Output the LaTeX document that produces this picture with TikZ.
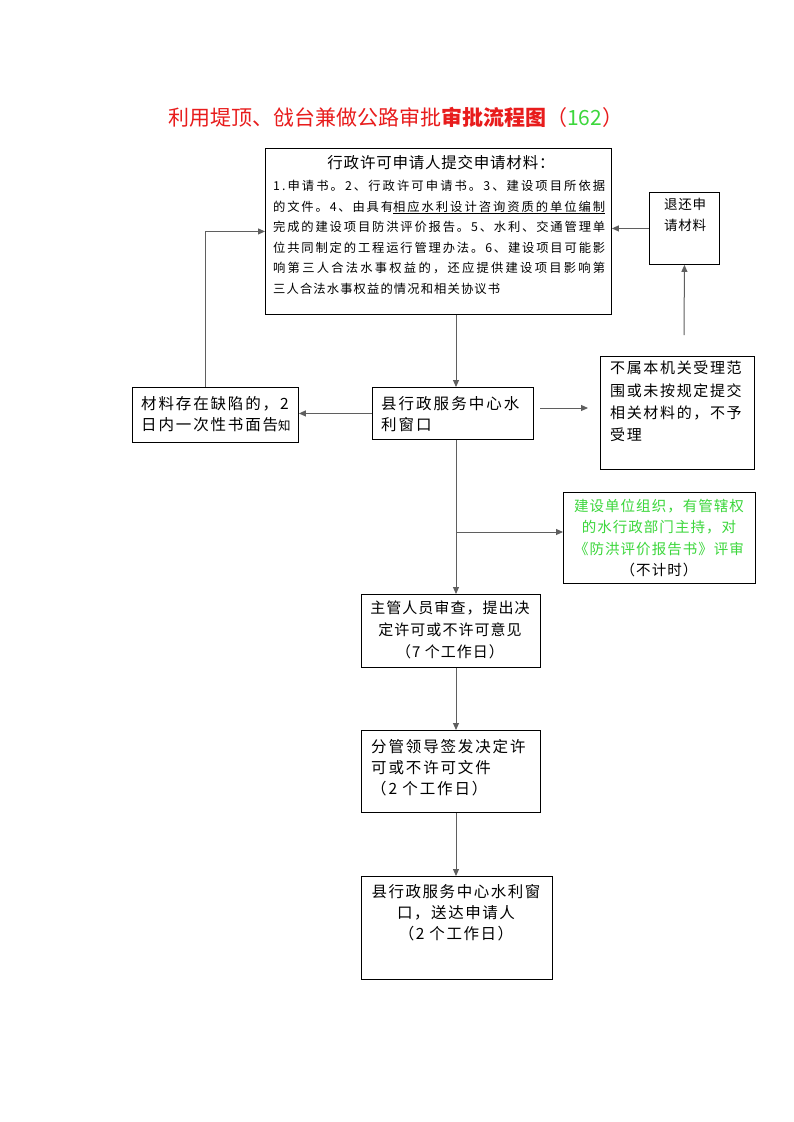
\documentclass[tikz,border=0pt]{standalone}
\usepackage{fontspec}
\setmainfont{Noto Sans CJK SC}
\usetikzlibrary{arrows.meta,calc}
\XeTeXlinebreaklocale "zh"
\definecolor{tred}{RGB}{232,28,28}
\definecolor{tgreen}{RGB}{60,215,60}
\definecolor{lgray}{RGB}{95,95,95}
\newcommand\fs[2]{\fontsize{#1}{#2}\selectfont}
\newcommand\jl[2]{\makebox[#1][s]{#2}}
\newcommand\stretchon{\XeTeXinterchartokenstate=1 \XeTeXinterchartoks 0 0={\hskip 0pt plus 1pt\relax}}
\begin{document}
\begin{tikzpicture}[x=1pt,y=-1pt,
  box/.style={draw, line width=0.9pt, inner sep=0, anchor=north west},
  conn/.style={draw=lgray, line width=1pt, -{Triangle[length=7pt,width=6pt]}},
  txt/.style={inner sep=0, anchor=north west, align=left},
  ctxt/.style={inner sep=0, anchor=north, align=center}]
\useasboundingbox (0,0) rectangle (793,1122);
\fill[white] (0,0) rectangle (793,1122);

% title
\node[anchor=west, inner sep=0, text=tred, font=\fs{21}{23}] (title) at (168,117)
  {利用堤顶、戗台兼做公路审批\textbf{审批流程图}（\textcolor{tgreen}{162}）};

% boxes
\node[box, minimum width=346, minimum height=166] (apply) at (265,148) {};
\node[box, minimum width=70, minimum height=72] (ret) at (649,192) {};
\node[box, minimum width=166, minimum height=55] (left) at (132,387) {};
\node[box, minimum width=161, minimum height=52] (win) at (372,387) {};
\node[box, minimum width=154, minimum height=113] (rej) at (600,356) {};
\node[box, minimum width=192, minimum height=91] (green) at (563,492) {};
\node[box, minimum width=179, minimum height=73] (zg) at (361,594) {};
\node[box, minimum width=179, minimum height=82] (fg) at (361,730) {};
\node[box, minimum width=191, minimum height=103] (fin) at (361,876) {};

% texts
\node[ctxt, font=\fs{15.5}{18}\addfontfeature{LetterSpace=5}] (applyh) at (441,155) {行政许可申请人提交申请材料：};
\node[txt, font=\fs{12.3}{20.6}\stretchon] (applyb) at (273,180) {%
\jl{332pt}{1.申请书。2、行政许可申请书。3、建设项目所依据}\\
\jl{120pt}{的文件。4、由具有}\underline{\jl{212pt}{相应水利设计咨询资质的单位编制}}\\
\jl{332pt}{完成的建设项目防洪评价报告。5、水利、交通管理单}\\
\jl{332pt}{位共同制定的工程运行管理办法。6、建设项目可能影}\\
\jl{332pt}{响第三人合法水事权益的，还应提供建设项目影响第}\\
\jl{227pt}{三人合法水事权益的情况和相关协议书}};

\node[txt, font=\fs{13.5}{21}\addfontfeature{LetterSpace=5}] (rett) at (664,198) {退还申\\请材料};

\node[txt, font=\fs{15.5}{21}\addfontfeature{LetterSpace=12}] (leftt) at (141,396) {材料存在缺陷的，2\\日内一次性书面告{\fs{12.5}{21}知}};

\node[txt, font=\fs{15.5}{21}\addfontfeature{LetterSpace=13}] (wint) at (381,396) {县行政服务中心水\\利窗口};

\node[txt, font=\fs{15}{22.2}\addfontfeature{LetterSpace=11}] (rejt) at (610,361) {不属本机关受理范\\围或未按规定提交\\相关材料的，不予\\受理};

\node[ctxt, font=\fs{14.5}{21.5}\addfontfeature{LetterSpace=7}, text=tgreen] (greent) at (659,499) {建设单位组织，有管辖权\\的水行政部门主持，对\\《防洪评价报告书》评审\\\textcolor{black}{（不计时）}};

\node[ctxt, font=\fs{15}{22}\addfontfeature{LetterSpace=7}] (zgt) at (450,601) {主管人员审查，提出决\\定许可或不许可意见\\（7 个工作日）};

\node[txt, font=\fs{15.5}{21}\addfontfeature{LetterSpace=12}] (fgt) at (371,739) {分管领导签发决定许\\可或不许可文件\\（2 个工作日）};

\node[ctxt, font=\fs{15.5}{21}\addfontfeature{LetterSpace=10}] (fint) at (456,884) {县行政服务中心水利窗\\口，送达申请人\\（2 个工作日）};

% connectors
\coordinate (sp) at (456,0);
\draw[conn] (apply.south -| sp) -- (win.north -| sp);
\draw[conn] (win.west) -- (win.west -| left.east);
\draw[conn] ($(left.north west)+(73,0)$) |- (apply.west);
\coordinate (ra) at (540,408);
\coordinate (rb) at (588,408);
\draw[conn] (ra) -- (rb);
\coordinate (up0) at (684,335);
\draw[conn] (up0) -- (ret.south);
\draw[conn] (ret.west) -- (ret.west -| apply.east);
\coordinate (br) at (456,532);
\draw[conn] (br) -- (green.west |- br);
\draw[conn] (win.south -| sp) -- (zg.north -| sp);
\draw[conn] (zg.south -| sp) -- (fg.north -| sp);
\draw[conn] (fg.south -| sp) -- (fin.north -| sp);
\end{tikzpicture}
\end{document}
